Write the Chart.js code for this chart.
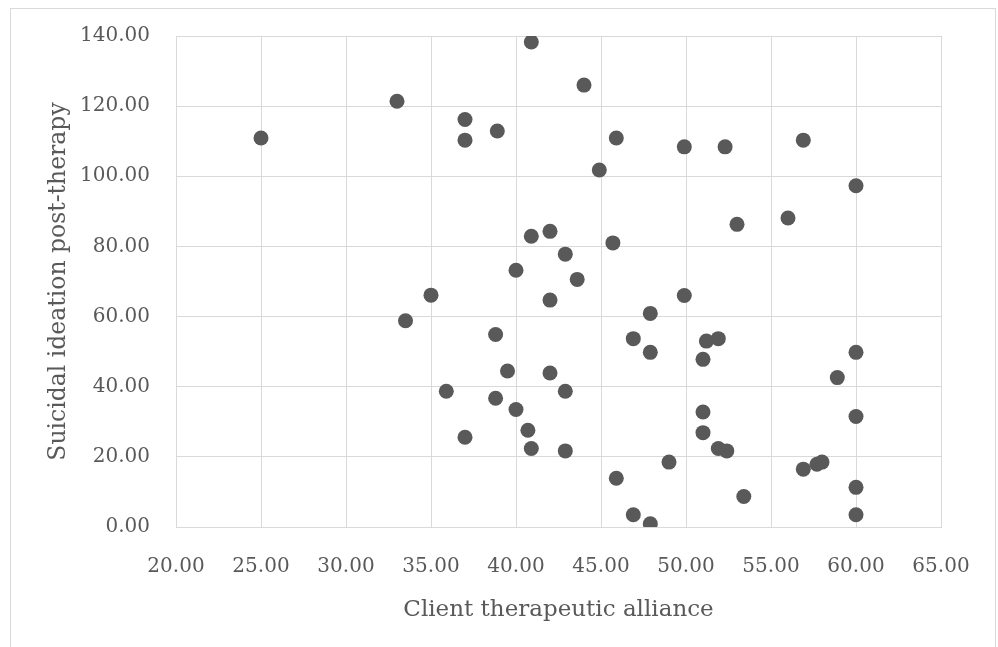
<!DOCTYPE html>
<html>
<head>
<meta charset="utf-8">
<script src="https://cdn.jsdelivr.net/npm/chart.js@4/dist/chart.umd.min.js"></script>
<style>
  html, body { margin: 0; padding: 0; background: #ffffff; }
  #wrap { width: 998px; height: 647px; position: relative; }
</style>
</head>
<body>
<div id="wrap"><canvas id="c" width="998" height="647"></canvas></div>
<script>
// Client therapeutic alliance (x) and suicidal ideation post-therapy (y)
const allianceValues = [
  25.0, 33.0, 37.0, 37.0, 38.9, 40.9, 44.0, 45.9, 49.9, 52.3,
  56.9, 44.9, 60.0, 56.0, 53.0, 40.9, 42.0, 45.7, 42.9, 40.0,
  43.6, 42.0, 35.0, 33.5, 49.9, 47.9, 38.8, 46.9, 47.9, 51.2,
  51.9, 51.0, 60.0, 58.9, 39.5, 42.0, 42.9, 35.9, 38.8, 40.0,
  40.7, 40.9, 42.9, 37.0, 51.0, 51.0, 60.0, 51.9, 52.4, 49.0,
  45.9, 56.9, 57.7, 58.0, 60.0, 53.4, 46.9, 47.9, 60.0
];
const ideationValues = [
  110.9, 121.4, 116.2, 110.3, 112.9, 138.3, 126.0, 110.9, 108.4, 108.4,
  110.3, 101.8, 97.3, 88.1, 86.3, 82.9, 84.3, 81.0, 77.8, 73.2,
  70.6, 64.7, 66.1, 58.8, 66.0, 60.9, 54.9, 53.7, 49.8, 53.0,
  53.7, 47.8, 49.8, 42.6, 44.5, 43.9, 38.7, 38.7, 36.7, 33.5,
  27.6, 22.4, 21.7, 25.6, 32.8, 26.9, 31.5, 22.4, 21.7, 18.5,
  13.9, 16.5, 17.9, 18.5, 11.3, 8.7, 3.5, 0.9, 3.5
];
const xTitle = 'Client therapeutic alliance';
const yTitle = 'Suicidal ideation post-therapy';

const points = allianceValues.map((x, i) => ({ x: x, y: ideationValues[i] }));

const GRID = '#d9d9d9';
const TEXT = '#595959';
const FONT = "'DejaVu Serif', 'Liberation Serif', serif";

const frame = {
  id: 'frame',
  beforeDraw(chart) {
    const ctx = chart.ctx;
    ctx.save();
    ctx.fillStyle = '#ffffff';
    ctx.fillRect(0, 0, chart.width, chart.height);
    ctx.strokeStyle = GRID;
    ctx.lineWidth = 1;
    ctx.strokeRect(10.5, 8.5, 985, 700);
    ctx.restore();
  }
};

new Chart(document.getElementById('c'), {
  type: 'scatter',
  data: {
    datasets: [{
      data: points,
      backgroundColor: '#595959',
      borderColor: '#595959',
      borderWidth: 0,
      pointRadius: 7.5,
      pointHoverRadius: 7.5
    }]
  },
  options: {
    responsive: false,
    animation: false,
    devicePixelRatio: 1,
    layout: { padding: { left: 0, top: 36, right: 57, bottom: 0 } },
    plugins: { legend: { display: false }, tooltip: { enabled: false } },
    scales: {
      x: {
        type: 'linear',
        min: 20, max: 65,
        ticks: {
          stepSize: 5,
          padding: 28,
          color: TEXT,
          font: { family: FONT, size: 20 },
          callback: v => Number(v).toFixed(2)
        },
        grid: { color: GRID, lineWidth: 1, drawTicks: false },
        border: { display: true, color: GRID, width: 1 },
        title: {
          display: true,
          text: xTitle,
          color: TEXT,
          font: { family: FONT, size: 23 },
          padding: { top: 0, bottom: 23 }
        },
        afterFit(scale) { scale.height = 120; scale.paddingLeft = 0; scale.paddingRight = 0; }
      },
      y: {
        type: 'linear',
        min: 0, max: 140,
        ticks: {
          stepSize: 20,
          padding: 26,
          color: TEXT,
          font: { family: FONT, size: 20 },
          callback: v => Number(v).toFixed(2)
        },
        grid: { color: GRID, lineWidth: 1, drawTicks: false },
        border: { display: true, color: GRID, width: 1 },
        title: {
          display: true,
          text: yTitle,
          color: TEXT,
          font: { family: FONT, size: 23.5 },
          padding: { top: 45, bottom: 0 }
        },
        afterFit(scale) { scale.width = 176; scale.paddingTop = 0; scale.paddingBottom = 0; }
      }
    }
  },
  plugins: [frame]
});
</script>
</body>
</html>
